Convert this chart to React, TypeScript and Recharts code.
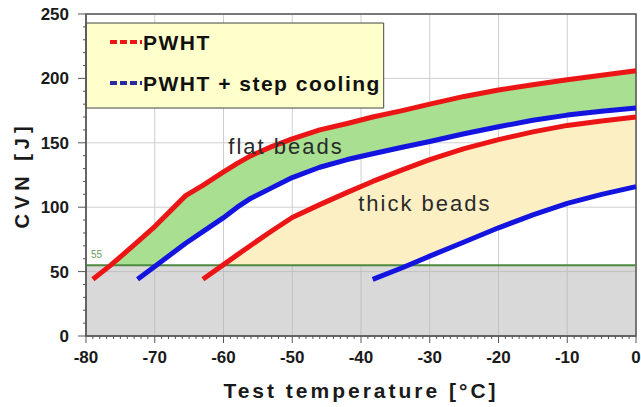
import React from "react";
import {
  ComposedChart,
  Line,
  Area,
  XAxis,
  YAxis,
  CartesianGrid,
  ReferenceArea,
  ReferenceLine,
  ReferenceDot,
} from "recharts";

// test temperatures (°C) at which the curves were read
const temps = [-79, -76.4, -72.5, -70, -65.5, -63, -60.1, -58, -56, -53, -50, -46, -42, -38.3, -34, -30, -25, -20, -15, -10, -5, 0];

// CVN (J) — flat beads
const flatPwht = [44, 55, 73, 85, 109, 117, 127, 134, 140, 147, 153, 160, 165, 170, 175, 180, 186, 191, 195, 199, 202.5, 206];
const flatStep = [null, null, 44, 54, 72, 81, 91.5, 100, 107, 115, 123, 131, 137, 141.5, 146.5, 151, 157, 162.5, 167.5, 171.5, 174.5, 177];

// CVN (J) — thick beads
const thickPwht = [null, null, null, null, null, 44, 55, 63, 70.5, 81.5, 92, 102, 111.5, 120, 129, 137, 145.5, 152.5, 158.5, 163.5, 167, 170];
const thickStep = [null, null, null, null, null, null, null, null, null, null, null, null, null, 44, 53, 62, 73, 84, 94, 103, 110, 116];

const limit = 55;

const xMajor = [-80, -70, -60, -50, -40, -30, -20, -10, 0];
const yMajor = [0, 50, 100, 150, 200, 250];
const xMinor = Array.from({ length: 81 }, (_, i) => i - 80);
const yMinor = Array.from({ length: 26 }, (_, i) => i * 10);

const RED = "#ec1515";
const BLUE = "#1414e0";
const FONT = "'Liberation Sans', Arial, sans-serif";

const data = temps.map((t, i) => {
  const fp = flatPwht[i];
  const fs = flatStep[i];
  const tp = thickPwht[i];
  const ts = thickStep[i];
  return {
    t,
    fp,
    fs,
    tp,
    ts,
    flatBand: fp != null && fp >= limit ? [Math.max(limit, fs ?? 0), fp] : null,
    thickBand: tp != null && tp >= limit ? [Math.max(limit, ts ?? 0), tp] : null,
  };
});

const XTick = (props: any) => {
  const { x, y, payload } = props;
  const major = payload.value % 10 === 0;
  return (
    <g>
      <line x1={x} x2={x} y1={y} y2={y + (major ? 7 : 3)} stroke="#555" />
      {major && (
        <text x={x} y={y + 27} textAnchor="middle" fontFamily={FONT} fontWeight="bold" fontSize={17} fill="#1a1a1a">
          {payload.value}
        </text>
      )}
    </g>
  );
};

const YTick = (props: any) => {
  const { x, y, payload } = props;
  const major = payload.value % 50 === 0;
  return (
    <g>
      <line x1={x - (major ? 8 : 3)} x2={x} y1={y} y2={y} stroke="#555" />
      {major && (
        <text x={x - 17} y={y} dy="0.35em" textAnchor="end" fontFamily={FONT} fontWeight="bold" fontSize={17} fill="#1a1a1a">
          {payload.value}
        </text>
      )}
    </g>
  );
};

const LegendText = ({ viewBox }: any) => {
  const { x, y } = viewBox;
  const rows = [
    { label: "PWHT", color: RED, dy: 19 },
    { label: "PWHT + step cooling", color: "#2a2aa0", dy: 60 },
  ];
  return (
    <g>
      {rows.map((r) => (
        <g key={r.label}>
          <line x1={x + 24} x2={x + 56} y1={y + r.dy} y2={y + r.dy} stroke={r.color} strokeWidth={4} strokeDasharray="7 3" />
          <text x={x + 57} y={y + r.dy} dy="0.36em" fontFamily={FONT} fontWeight="bold" fontSize={21} letterSpacing={1.5} fill="#111">
            {r.label}
          </text>
        </g>
      ))}
    </g>
  );
};

const AreaText = (text: string) => (props: any) => {
  const { x, y } = props.viewBox;
  return (
    <text x={x} y={y} dy="0.35em" fontFamily={FONT} fontSize={22} letterSpacing={2} fill="#2a2a2a">
      {text}
    </text>
  );
};

export default function App() {
  return (
    <div style={{ position: "absolute", left: 0, top: 0 }}>
      <ComposedChart width={641} height={407} data={data} margin={{ top: 14, right: 5, bottom: 31, left: 10 }}>
        <CartesianGrid stroke="#cfcfcf" verticalValues={xMajor} horizontalValues={yMajor} />
        <XAxis
          dataKey="t"
          type="number"
          domain={[-80, 0]}
          ticks={xMinor}
          interval={0}
          height={40}
          tickSize={0}
          tickMargin={0}
          tickLine={false}
          tick={<XTick />}
          axisLine={{ stroke: "#555" }}
          label={(p: any) => (
            <text
              x={p.viewBox.x + p.viewBox.width / 2}
              y={p.viewBox.y + 55}
              dy="0.35em"
              textAnchor="middle"
              fontFamily={FONT}
              fontWeight="bold"
              fontSize={21}
              letterSpacing={3}
              fill="#1a1a1a"
            >
              Test temperature [°C]
            </text>
          )}
        />
        <YAxis
          type="number"
          domain={[0, 250]}
          ticks={yMinor}
          interval={0}
          width={76}
          tickSize={0}
          tickMargin={0}
          tickLine={false}
          tick={<YTick />}
          axisLine={{ stroke: "#555" }}
          label={(p: any) => {
            const cx = p.viewBox.x + 12;
            const cy = p.viewBox.y + p.viewBox.height / 2;
            return (
              <text
                x={cx}
                y={cy}
                dy="0.35em"
                textAnchor="middle"
                transform={`rotate(-90 ${cx} ${cy})`}
                fontFamily={FONT}
                fontWeight="bold"
                fontSize={20}
                letterSpacing={5}
                fill="#1a1a1a"
              >
                CVN [J]
              </text>
            );
          }}
        />
        <ReferenceArea x1={-80} x2={0} y1={0} y2={limit} fill="#b4b4b4" fillOpacity={0.5} stroke="none" />
        <Area dataKey="flatBand" type="linear" fill="#a8df90" fillOpacity={1} stroke="none" isAnimationActive={false} />
        <Area dataKey="thickBand" type="linear" fill="#fdefc4" fillOpacity={1} stroke="none" isAnimationActive={false} />
        <ReferenceLine
          y={limit}
          stroke="#4d8a40"
          strokeWidth={2}
          label={(p: any) => (
            <text x={p.viewBox.x + 5} y={p.viewBox.y - 7} fontFamily={FONT} fontSize={10} fill="#6a9a60">
              55
            </text>
          )}
        />
        <ReferenceArea
          x1={-80}
          x2={-36.7}
          y1={177}
          y2={243}
          fill="#ffffcc"
          fillOpacity={1}
          stroke="#444"
          strokeWidth={1}
          label={(p: any) => <LegendText viewBox={p.viewBox} />}
        />
        <Line dataKey="fp" type="linear" stroke={RED} strokeWidth={5} strokeLinejoin="round" dot={false} isAnimationActive={false} />
        <Line dataKey="fs" type="linear" stroke={BLUE} strokeWidth={5} strokeLinejoin="round" dot={false} isAnimationActive={false} />
        <Line dataKey="tp" type="linear" stroke={RED} strokeWidth={5} strokeLinejoin="round" dot={false} isAnimationActive={false} />
        <Line dataKey="ts" type="linear" stroke={BLUE} strokeWidth={5} strokeLinejoin="round" dot={false} isAnimationActive={false} />
        <ReferenceDot x={-59.3} y={147} r={0} fill="none" stroke="none" label={AreaText("flat beads")} />
        <ReferenceDot x={-40.4} y={103} r={0} fill="none" stroke="none" label={AreaText("thick beads")} />
        <ReferenceArea x1={-80} x2={0} y1={0} y2={250} fill="none" stroke="#555" strokeWidth={1.5} />
      </ComposedChart>
    </div>
  );
}
